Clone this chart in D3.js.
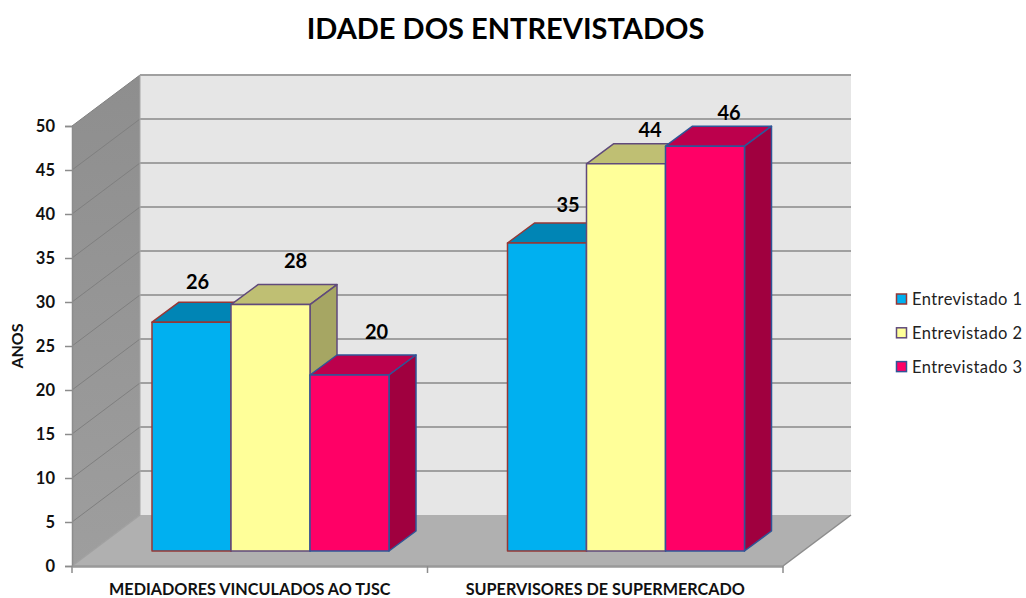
<!DOCTYPE html>
<html><head><meta charset="utf-8">
<script src="https://cdn.jsdelivr.net/npm/d3@7"></script>
<style>html,body{margin:0;padding:0;background:#fff}svg{display:block}text{font-family:Lato,"Open Sans",sans-serif;fill:#111}</style>
</head><body><svg id="c" width="1026" height="598"></svg>
<script>
const title = "IDADE DOS ENTREVISTADOS";
const categories = ["MEDIADORES VINCULADOS AO TJSC", "SUPERVISORES DE SUPERMERCADO"];
const seriesNames = ["Entrevistado 1", "Entrevistado 2", "Entrevistado 3"];
const entrevistado1 = [26, 35];
const entrevistado2 = [28, 44];
const entrevistado3 = [20, 46];
const yTicks = [0,5,10,15,20,25,30,35,40,45,50];
const yLabel = "ANOS";

// layout and style only
const seriesValues = [entrevistado1, entrevistado2, entrevistado3];
const palette = [
 {front:"#00B0F0", top:"#0085B5", side:"#007AA6", stroke:"#953735"},
 {front:"#FFFF99", top:"#BFBF73", side:"#A6A663", stroke:"#604A7B"},
 {front:"#FF0066", top:"#BC004C", side:"#A0003F", stroke:"#2F5597"}];
const labelNudge = [[[6,-41],[25,-44],[27,-44]],[[21,-39],[24,-34],[24,-34]]];
const X0=72, X1=783, Y0=566, Y1=126, DX=68, DY=-51;
const barDX=20.75, barDY=-15, depthX=27, depthY=-20;

const svg=d3.select("#c");
const x0=d3.scaleBand().domain(categories).range([X0,X1]);
const y=d3.scaleLinear().domain([0,50]).range([Y0,Y1]);
const x1=d3.scaleBand().domain(d3.range(3)).range([0,237]);
const poly=(pts,fill,stroke,w)=>svg.append("polygon").attr("points",pts.map(p=>p.join(",")).join(" "))
  .attr("fill",fill).attr("stroke",stroke||"none").attr("stroke-width",w||0).attr("stroke-linejoin","round");

svg.append("text").attr("x",505.5).attr("y",39).attr("text-anchor","middle")
  .attr("font-size",29).attr("font-weight",700).style("fill","#000").text(title);

// walls
const defs=svg.append("defs");
const g=defs.append("linearGradient").attr("id","wall").attr("x1",0).attr("x2",0).attr("y1",0).attr("y2",1);
g.append("stop").attr("offset",0).attr("stop-color","#8E8E8E");
g.append("stop").attr("offset",1).attr("stop-color","#9E9E9E");
poly([[X0+DX,y(0)+DY],[X1+DX,y(0)+DY],[X1+DX,y(50)+DY],[X0+DX,y(50)+DY]],"#E6E6E6");
poly([[X0,y(0)],[X0+DX,y(0)+DY],[X0+DX,y(50)+DY],[X0,y(50)]],"url(#wall)");
poly([[X0,y(0)],[X1,y(0)],[X1+DX,y(0)+DY],[X0+DX,y(0)+DY]],"#B0B0B0");

// gridlines
yTicks.forEach(t=>{
  if(t>0) svg.append("line").attr("x1",X0+DX).attr("x2",X1+DX).attr("y1",y(t)+DY).attr("y2",y(t)+DY)
    .attr("stroke","#A0A0A0").attr("stroke-width",2);
  svg.append("line").attr("x1",X0).attr("x2",X0+DX).attr("y1",y(t)).attr("y2",y(t)+DY)
    .attr("stroke",t>0?"#7F7F7F":"#A0A0A0").attr("stroke-width",t>0?1:1.5);
});
svg.append("line").attr("x1",X0+DX).attr("x2",X0+DX).attr("y1",y(0)+DY).attr("y2",y(50)+DY).attr("stroke","#A6A6A6").attr("stroke-width",1);
svg.append("line").attr("x1",X1).attr("x2",X1+DX).attr("y1",y(0)).attr("y2",y(0)+DY).attr("stroke","#8C8C8C").attr("stroke-width",1.5);

// bars
categories.forEach((cat,ci)=>{
  seriesValues.forEach((vals,si)=>{
    const v=vals[ci], c=palette[si];
    const xl=x0(cat)+(x0.bandwidth()-237)/2+x1(si)+barDX, xr=xl+x1.bandwidth();
    const yb=y(0)+barDY, yt=y(v)+barDY;
    const st=c.stroke;
    poly([[xl,yt],[xl+depthX,yt+depthY],[xr+depthX,yt+depthY],[xr,yt]],c.top,st,1.5);
    poly([[xr,yt],[xr+depthX,yt+depthY],[xr+depthX,yb+depthY],[xr,yb]],c.side,st,1.5);
    poly([[xl,yt],[xr,yt],[xr,yb],[xl,yb]],c.front,st,1.5);
  });
});
// data labels drawn above all bars
categories.forEach((cat,ci)=>{
  seriesValues.forEach((vals,si)=>{
    const v=vals[ci], n=labelNudge[ci][si];
    const xc=x0(cat)+(x0.bandwidth()-237)/2+x1(si)+x1.bandwidth()/2+barDX;
    svg.append("text").attr("x",xc+n[0]).attr("y",y(v)+barDY+n[1]+7.5).attr("text-anchor","middle")
      .attr("font-size",20).attr("font-weight",700).style("fill","#000").text(v);
  });
});

// axes
const axY=svg.append("g").attr("transform",`translate(${X0},0)`)
  .call(d3.axisLeft(y).tickValues(yTicks).tickSize(7).tickPadding(10));
axY.select(".domain").attr("stroke","#8C8C8C").attr("stroke-width",1.5);
axY.selectAll(".tick line").attr("stroke","#8C8C8C").attr("stroke-width",1.5);
axY.selectAll("text").attr("font-size",16.5).attr("font-weight",700).style("font-family","Lato,sans-serif").style("fill","#111");
const axX=svg.append("g").attr("transform",`translate(0,${Y0})`)
  .call(d3.axisBottom(x0).tickSize(0).tickPadding(17));
axX.select(".domain").attr("stroke","#999").attr("stroke-width",2.5);
axX.selectAll("text").attr("font-size",16.2).attr("font-weight",700).style("font-family","Lato,sans-serif").style("fill","#111");
axX.selectAll(".tick line").remove();
[0,1,2].forEach(i=>{
  const xp=i<2?x0(categories[i]):x0(categories[1])+x0.bandwidth();
  axX.append("line").attr("x1",xp).attr("x2",xp).attr("y1",0).attr("y2",7).attr("stroke","#8C8C8C").attr("stroke-width",1.5);
});
svg.append("text").attr("transform","translate(23,346) rotate(-90)").attr("text-anchor","middle")
  .attr("font-size",16).attr("font-weight",700).text(yLabel);

// legend
seriesNames.forEach((s,i)=>{
  const ly=299+i*33.8;
  svg.append("rect").attr("x",896.5).attr("y",ly-5).attr("width",10).attr("height",10)
    .attr("fill",palette[i].front).attr("stroke",palette[i].stroke).attr("stroke-width",1.5);
  svg.append("text").attr("x",912).attr("y",ly+6).attr("font-size",16.5).attr("letter-spacing",0.42).style("fill","#222").text(s);
});
</script></body></html>
